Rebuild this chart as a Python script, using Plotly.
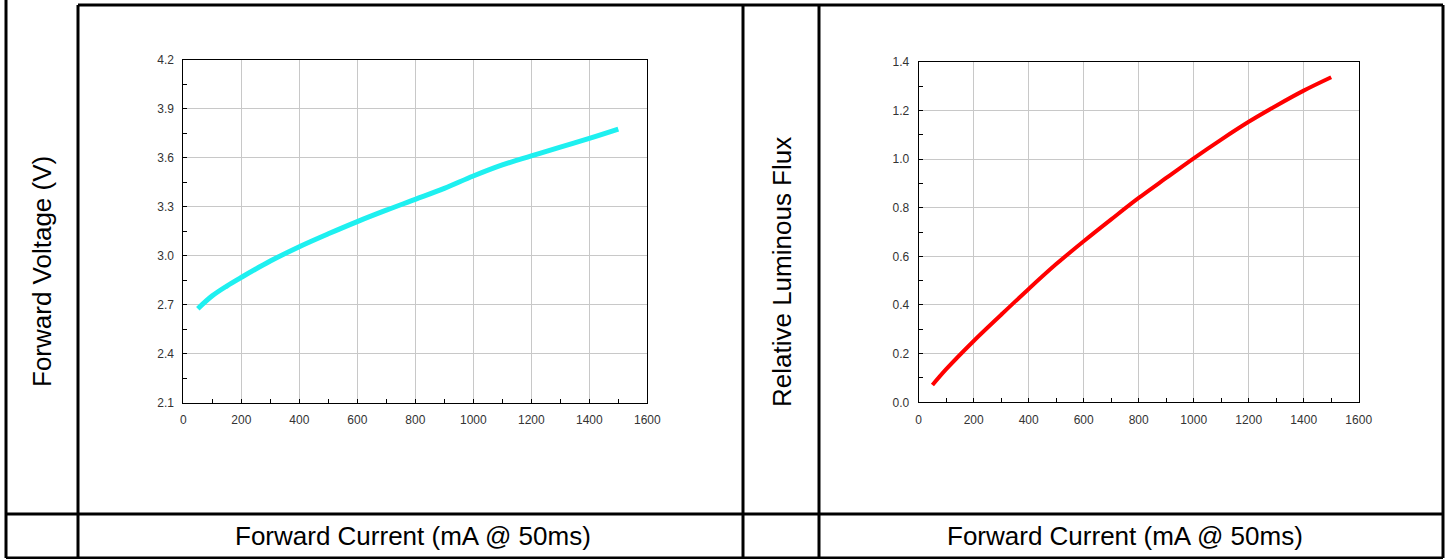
import plotly.graph_objects as go

W, H = 1451, 559

# ---- data ----
current_v = [50, 100, 150, 200, 300, 400, 500, 600, 700, 800, 900, 1000, 1100, 1200, 1300, 1400, 1500]
voltage = [2.676, 2.755, 2.815, 2.868, 2.968, 3.056, 3.135, 3.210, 3.280, 3.346, 3.413, 3.489, 3.557, 3.612, 3.666, 3.720, 3.777]

current_f = [50, 100, 200, 300, 400, 500, 600, 700, 800, 900, 1000, 1100, 1200, 1300, 1400, 1500]
flux = [0.071, 0.136, 0.252, 0.360, 0.466, 0.568, 0.662, 0.752, 0.840, 0.922, 1.003, 1.080, 1.153, 1.219, 1.281, 1.336]

x_title = "Forward Current (mA @ 50ms)"
y1_title = "Forward Voltage (V)"
y2_title = "Relative Luminous Flux"

FONT = "Liberation Sans, Arial, sans-serif"


def px(x):
    return x / W


def py(y):
    return 1 - y / H


fig = go.Figure()
fig.add_trace(go.Scatter(x=current_v, y=voltage, mode="lines", xaxis="x", yaxis="y",
                         line=dict(color="#1ef0f0", width=5, shape="spline"), showlegend=False))
fig.add_trace(go.Scatter(x=current_f, y=flux, mode="lines", xaxis="x2", yaxis="y2",
                         line=dict(color="#ff0000", width=4, shape="spline"), showlegend=False))

common_axis = dict(showline=True, linecolor="black", linewidth=1, mirror=True, automargin=False,
                   showgrid=True, gridcolor="#c8c8c8", gridwidth=1, zeroline=False,
                   ticks="inside", ticklen=4, tickcolor="black",
                   tickfont=dict(family=FONT, size=12, color="#333333"),
                   ticklabelstandoff=6)

fig.update_layout(
    template="none",
    width=W, height=H, autosize=False,
    margin=dict(l=0, r=0, t=0, b=0, pad=0, autoexpand=False),
    paper_bgcolor="white", plot_bgcolor="white",
    xaxis=dict(domain=[px(183.3), px(647.3)], range=[0, 1600], dtick=200, anchor="y",
               minor=dict(dtick=100, ticks="inside", ticklen=4, tickcolor="black", showgrid=False),
               **common_axis),
    yaxis=dict(domain=[py(402.7), py(60)], range=[2.1, 4.2], dtick=0.3, tickformat=".1f", anchor="x",
               minor=dict(dtick=0.15, ticks="inside", ticklen=4, tickcolor="black", showgrid=False),
               **common_axis),
    xaxis2=dict(domain=[px(918.7), px(1358.7)], range=[0, 1600], dtick=200, anchor="y2",
                minor=dict(dtick=100, ticks="inside", ticklen=4, tickcolor="black", showgrid=False),
                **common_axis),
    yaxis2=dict(domain=[py(402.3), py(61.7)], range=[0, 1.4], dtick=0.2, tickformat=".1f", anchor="x2",
                minor=dict(dtick=0.1, ticks="inside", ticklen=4, tickcolor="black", showgrid=False),
                **common_axis),
)

# table borders
lw = 3
lines = [
    (6, 0, 6, 558), (78, 5, 78, 558), (743, 5, 743, 558), (819, 5, 819, 558), (1443, 5, 1443, 558),
    (78, 5, 1443, 5), (6, 514, 1443, 514), (6, 558, 1443, 558),
]
for x0, y0, x1, y1 in lines:
    fig.add_shape(type="line", xref="paper", yref="paper",
                  x0=px(x0), y0=py(y0), x1=px(x1), y1=py(y1),
                  line=dict(color="black", width=lw))

ann_font = dict(family=FONT, size=26, color="black")
fig.add_annotation(x=px(42), y=py(272), xref="paper", yref="paper", text=y1_title,
                   textangle=-90, showarrow=False, font=ann_font, xanchor="center", yanchor="middle")
fig.add_annotation(x=px(782), y=py(272), xref="paper", yref="paper", text=y2_title,
                   textangle=-90, showarrow=False, font=ann_font, xanchor="center", yanchor="middle")
fig.add_annotation(x=px(413), y=py(536), xref="paper", yref="paper", text=x_title,
                   showarrow=False, font=ann_font, xanchor="center", yanchor="middle")
fig.add_annotation(x=px(1125), y=py(536), xref="paper", yref="paper", text=x_title,
                   showarrow=False, font=ann_font, xanchor="center", yanchor="middle")

fig.write_html("out.html", config={"displayModeBar": False},
               post_script="document.body.style.margin='0';document.body.style.overflow='hidden';"
                           "document.documentElement.style.overflow='hidden';")
